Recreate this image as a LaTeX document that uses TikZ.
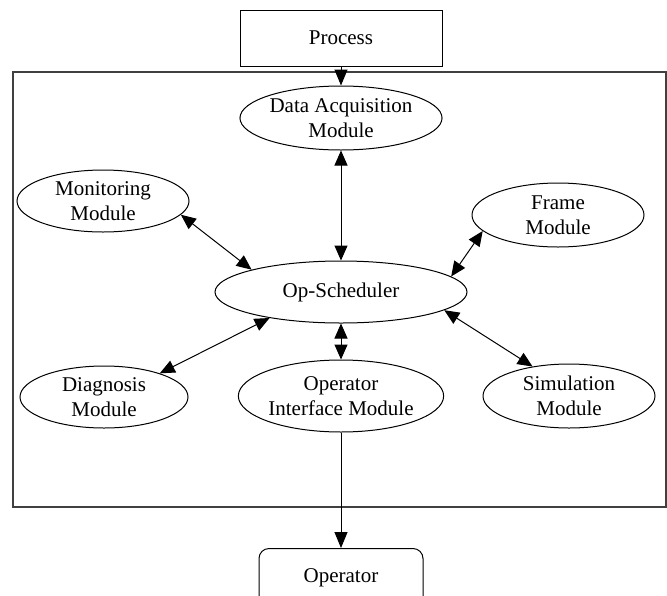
\documentclass[tikz,border=0pt]{standalone}
\usepackage{fontspec}
\setmainfont{Liberation Serif}
\usetikzlibrary{shapes.geometric,arrows.meta}
\begin{document}
\begin{tikzpicture}[x=1pt,y=-1pt,
  font=\fontsize{21}{25}\selectfont,
  module/.style={ellipse,draw,line width=1pt,inner sep=0pt,align=center},
  boxnode/.style={draw,line width=1pt,inner sep=0pt,align=center},
  link/.style={line width=1pt,{Triangle[length=15pt,width=13pt]}-{Triangle[length=15pt,width=13pt]}},
  feed/.style={line width=1pt,-{Triangle[length=16pt,width=13pt]}}]
\useasboundingbox (0,0) rectangle (667,595);
\clip (0,0) rectangle (667,595);

% system boundary
\draw[black!75,line width=1.5pt] (13,72) rectangle (666,507);

% outside actors
\node[boxnode,minimum width=202pt,minimum height=56pt] (proc) at (341,38) {Process};
\node[boxnode,rounded corners=10pt,minimum width=164pt,minimum height=58pt,anchor=north] (opr) at (341,548) {Operator};

% modules
\node[module,minimum width=200pt,minimum height=64pt] (daq) at (341,118) {Data Acquisition\\Module};
\node[module,minimum width=172pt,minimum height=62pt] (mon) at (103,201) {Monitoring\\Module};
\node[module,minimum width=172pt,minimum height=64pt] (frm) at (558,215) {Frame\\Module};
\node[module,minimum width=252pt,minimum height=62pt] (ops) at (341,292) {Op-Scheduler};
\node[module,minimum width=168pt,minimum height=62pt] (dia) at (104,397) {Diagnosis\\Module};
\node[module,minimum width=172pt,minimum height=64pt] (sim) at (569,396) {Simulation\\Module};
\node[module,minimum width=204pt,minimum height=72pt] (oim) at (341,396) {Operator\\Interface Module};

% connections
\draw[feed] (proc.south) -- (daq.north);
\draw[link] (daq.south) -- (ops.north);
\draw[link] (mon.-10) -- (ops.166);
\draw[link] (frm.-168) -- (ops.8);
\draw[link] (dia.23) -- (ops.-160);
\draw[link] (sim.141) -- (ops.-10);
\draw[link] (ops.south) -- (oim.north);
\draw[feed] (oim.south) -- (opr.north);
\end{tikzpicture}
\end{document}
